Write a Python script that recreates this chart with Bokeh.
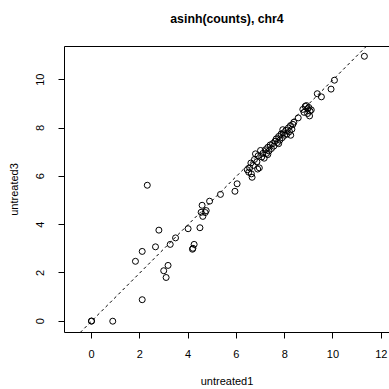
from bokeh.plotting import figure
from bokeh.models import Range1d, FixedTicker, LinearAxis, Slope, ColumnDataSource
from bokeh.embed import file_html
from bokeh.resources import INLINE

title_text = "asinh(counts), chr4"
x_label = "untreated1"
y_label = "untreated3"
x_ticks = [0, 2, 4, 6, 8, 10, 12]
y_ticks = [0, 2, 4, 6, 8, 10]

untreated1 = [
    0.0, 0.0, 0.88, 2.10, 1.82, 2.10, 2.79, 2.65, 2.31, 2.99, 3.17, 3.09, 3.26,
    3.48, 4.00, 4.49, 4.25, 4.18, 4.20, 4.58, 4.54, 4.75, 4.71, 4.61, 4.89,
    5.34, 5.94, 6.03, 6.45, 6.51, 6.65, 6.79,
    6.55, 6.60, 6.70, 6.75, 6.85, 6.90, 7.00, 6.95, 7.05, 7.10, 6.62, 7.15, 6.88,
    7.20, 7.25, 7.30, 7.35, 7.40, 7.45, 7.50, 7.55, 7.30, 7.60,
    7.65, 7.70, 7.75, 7.80, 7.85, 7.90, 7.92, 7.95, 8.00, 7.75, 8.05,
    8.10, 8.15, 8.20, 8.24, 8.30, 8.34, 8.38, 8.25,
    8.56, 8.75, 8.85, 8.90, 8.95, 9.00, 9.05, 9.03, 8.95, 9.10, 8.80,
    9.35, 9.52, 9.92, 10.06, 11.30,
]
untreated3 = [
    0.0, 0.01, 0.0, 0.89, 2.48, 2.89, 3.77, 3.08, 5.63, 2.09, 2.31, 1.81, 3.18,
    3.45, 3.83, 3.87, 3.18, 2.98, 3.02, 4.80, 4.51, 4.58, 4.50, 4.34, 4.97,
    5.25, 5.38, 5.69, 6.27, 6.17, 5.96, 6.93,
    6.35, 6.55, 6.45, 6.70, 6.60, 6.85, 7.07, 6.35, 6.80, 6.95, 6.10, 6.75, 6.30,
    7.10, 6.95, 7.20, 7.05, 7.30, 7.15, 7.35, 7.25, 6.90, 7.45,
    7.55, 7.40, 7.65, 7.50, 7.75, 7.60, 7.93, 7.80, 7.70, 7.35, 7.90,
    7.75, 8.00, 7.85, 8.10, 7.95, 8.15, 8.24, 7.70,
    8.42, 8.77, 8.90, 8.93, 8.80, 8.85, 8.70, 8.50, 8.60, 8.75, 8.65,
    9.42, 9.29, 9.61, 9.98, 10.97,
]

FONT = "Liberation Sans"

p = figure(
    width=389, height=389,
    output_backend="svg", toolbar_location=None,
    x_range=Range1d(-1.118, 12.34), y_range=Range1d(-0.468, 11.375),
    min_border_left=64, min_border_right=0, min_border_top=46, min_border_bottom=57,
    x_axis_label=x_label, y_axis_label=y_label,
)
p.title.visible = False
p.outline_line_color = None
p.xgrid.visible = False
p.ygrid.visible = False
p.background_fill_color = "white"
p.border_fill_color = "white"

for ax, ticks in ((p.xaxis[0], x_ticks), (p.yaxis[0], y_ticks)):
    ax.ticker = FixedTicker(ticks=ticks)
    ax.major_tick_out = 6
    ax.major_tick_in = 0
    ax.minor_tick_line_color = None
    ax.axis_line_color = "black"
    ax.major_tick_line_color = "black"
    ax.major_label_text_font = FONT
    ax.major_label_text_font_size = "11px"
    ax.major_label_text_color = "black"
    ax.axis_label_text_font = FONT
    ax.axis_label_text_font_size = "11px"
    ax.axis_label_text_font_style = "normal"
    ax.axis_label_text_color = "black"

p.xaxis[0].major_label_standoff = 11
p.xaxis[0].axis_label_standoff = 14
p.yaxis[0].major_label_orientation = "vertical"
p.yaxis[0].major_label_standoff = 14
p.yaxis[0].axis_label_standoff = 14

# top box edge, carrying the plot title as its label
top = LinearAxis(ticker=FixedTicker(ticks=[]), major_tick_line_color=None,
                 minor_tick_line_color=None, major_label_text_font_size="0px",
                 major_label_standoff=0, major_tick_out=0, major_tick_in=0,
                 axis_line_color="black", axis_label=title_text,
                 axis_label_text_font=FONT, axis_label_text_font_size="12.3px",
                 axis_label_text_font_style="bold", axis_label_text_color="black",
                 axis_label_standoff=21)
p.add_layout(top, "above")

p.add_layout(Slope(gradient=1, y_intercept=0, line_color="black",
                   line_dash="3 3", line_width=1))

src = ColumnDataSource(data=dict(x=untreated1, y=untreated3))
p.scatter("x", "y", source=src, marker="circle", size=6,
          fill_color=None, line_color="black", line_width=1)

open("out.html", "w").write(file_html(p, INLINE))
